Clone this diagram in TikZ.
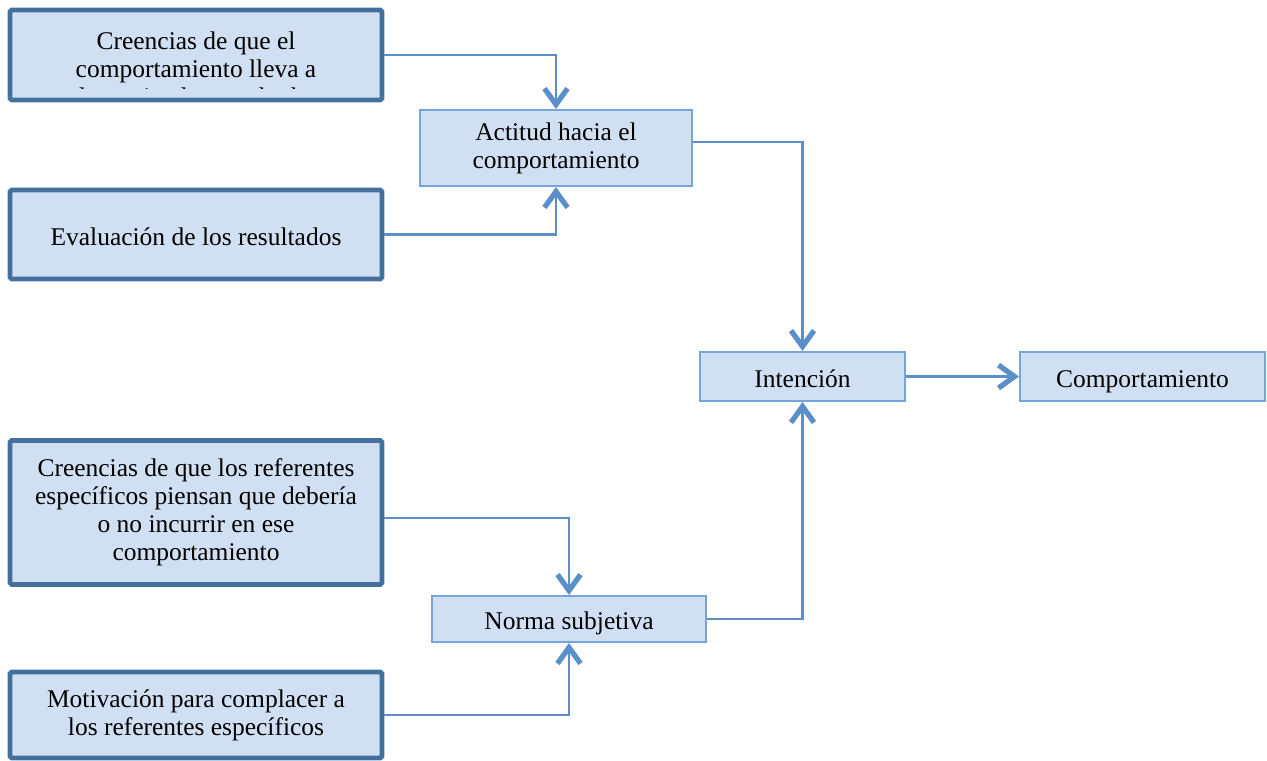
\documentclass[tikz,border=0pt]{standalone}
\usepackage{fontspec}
\setmainfont{Liberation Serif}
\usetikzlibrary{arrows.meta}
\definecolor{boxfill}{HTML}{D0E0F2}
\definecolor{darkedge}{HTML}{44709E}
\definecolor{lightedge}{HTML}{75A5DA}
\definecolor{linkblue}{HTML}{5B8FCA}
\begin{document}
\begin{tikzpicture}[
  every node/.style={font=\fontsize{14.5}{16}\selectfont, align=center, inner sep=0pt},
  unalinea/.style={text height=12.4pt, text depth=0pt},
  causa/.style={draw=darkedge, fill=boxfill, line width=2.8pt, rounded corners=1pt, minimum width=7.44cm},
  etapa/.style={draw=lightedge, fill=boxfill, line width=1.1pt},
  link/.style={draw=linkblue, line width=1.4pt, -{Straight Barb[length=0.32cm, width=0.46cm, line width=3pt]}}
]
\useasboundingbox (0,0) rectangle (25.34,-15.2);
% causas a la izquierda
\node[causa, minimum height=1.80cm] (creres) at (3.92,-1.10) {};
\begin{scope}
  \clip ([shift={(1.5pt,0.28cm)}]creres.south west) rectangle ([shift={(-1.5pt,-1.5pt)}]creres.north east);
  \node (creresT) at (3.92,-1.38) {Creencias de que el\\comportamiento lleva a\\determinados resultados};
\end{scope}
\node[causa, unalinea, minimum height=1.78cm] (evalres) at (3.92,-4.69) {Evaluación de los resultados};
\node[causa, minimum height=2.88cm] (creref) at (3.92,-10.25) {Creencias de que los referentes\\específicos piensan que debería\\o no incurrir en ese\\comportamiento};
\node[causa, minimum height=1.72cm] (motiv) at (3.92,-14.3) {Motivación para complacer a\\los referentes específicos};
% etapas
\node[etapa, minimum width=5.44cm, minimum height=1.52cm] (actitud) at (11.12,-2.96) {Actitud hacia el\\comportamiento};
\node[etapa, unalinea, minimum width=5.48cm, minimum height=0.92cm] (norma) at (11.38,-12.38) {Norma subjetiva};
\node[etapa, unalinea, minimum width=4.10cm, minimum height=0.98cm] (intencion) at (16.05,-7.53) {Intención};
\node[etapa, unalinea, minimum width=4.90cm, minimum height=0.98cm] (comport) at (22.85,-7.53) {Comportamiento};
% conexiones
\draw[link] (creres.east) -| (actitud.north);
\draw[link] (evalres.east) -| (actitud.south);
\draw[link] ([yshift=-0.11cm]creref.east) -| (norma.north);
\draw[link] (motiv.east) -| (norma.south);
\draw[link] ([yshift=0.12cm]actitud.east) -| (intencion.north);
\draw[link] (norma.east) -| (intencion.south);
\draw[link] (intencion.east) -- (comport.west);
\end{tikzpicture}
\end{document}
